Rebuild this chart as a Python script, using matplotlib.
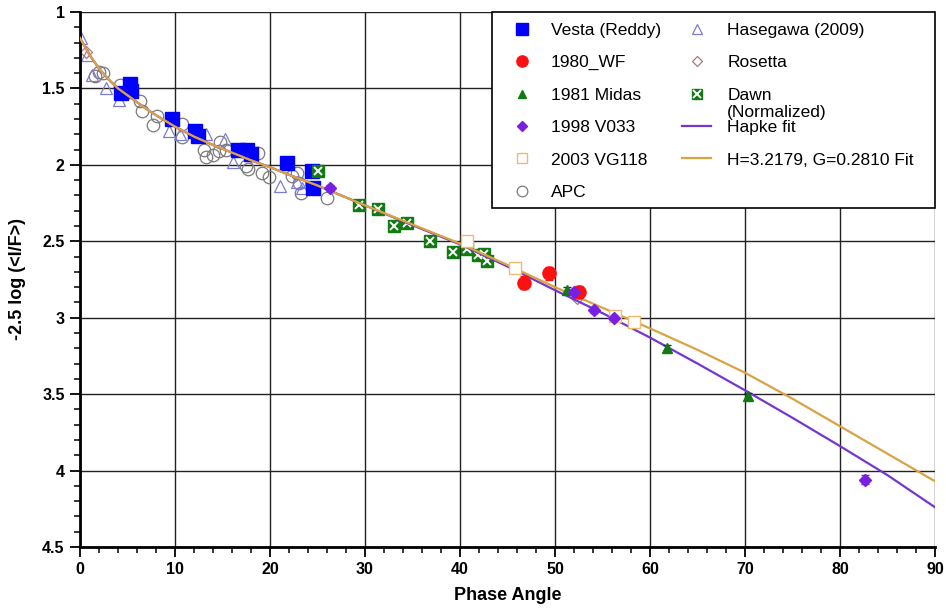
import matplotlib
matplotlib.use("Agg")
import matplotlib.pyplot as plt
from matplotlib.patches import Rectangle
from matplotlib.ticker import MultipleLocator, FormatStrFormatter

plt.rcParams['font.family'] = ['Liberation Sans', 'DejaVu Sans']

# --- data ---
vesta_x = [4.3, 5.3, 5.4, 9.7, 12.1, 12.4, 16.6, 17.6, 18.0, 21.8, 24.4, 24.5]
vesta_y = [1.53, 1.47, 1.52, 1.70, 1.78, 1.81, 1.90, 1.90, 1.93, 1.99, 2.04, 2.15]

wf_x = [46.7, 49.4, 52.5]
wf_y = [2.77, 2.71, 2.83]
wf_err = [0.04, 0.045, 0.04]

midas_x = [51.3, 61.8, 70.3]
midas_y = [2.82, 3.20, 3.51]
midas_err = [0.02, 0.02, 0.02]

v033_x = [26.3, 52.0, 54.1, 56.2, 82.6]
v033_y = [2.15, 2.83, 2.95, 3.00, 4.06]
v033_err = [0.02, 0.02, 0.02, 0.02, 0.03]

vg_x = [40.7, 45.8, 56.3, 58.3]
vg_y = [2.50, 2.675, 2.99, 3.03]
vg_err = [0.02, 0.02, 0.02, 0.02]

apc_x = [1.6, 2.0, 2.4, 4.2, 6.3, 6.5, 7.7, 8.1, 10.7, 10.7, 13.0, 13.3, 14.0,
         14.6, 14.7, 15.4, 17.5, 17.7, 18.7, 19.2, 19.9, 22.3, 22.8, 23.0,
         23.3, 26.0]
apc_y = [1.42, 1.39, 1.40, 1.48, 1.58, 1.65, 1.74, 1.68, 1.73, 1.815, 1.90, 1.95,
         1.935, 1.91, 1.85, 1.90, 2.01, 2.03, 1.92, 2.05, 2.08, 2.07, 2.05,
         2.12, 2.185, 2.22]

hase_x = [0.1, 0.7, 1.3, 2.7, 4.1, 9.4, 10.5, 13.3, 15.3, 16.1, 21.1, 22.8, 23.4]
hase_y = [1.17, 1.28, 1.41, 1.50, 1.575, 1.78, 1.80, 1.80, 1.83, 1.98, 2.14, 2.11, 2.15]

ros_x = [0.6, 52.3]
ros_y = [1.26, 2.87]

dawn_x = [25.1, 29.4, 31.4, 33.0, 34.4, 36.8, 39.3, 40.7, 41.9, 42.5, 42.8]
dawn_y = [2.04, 2.26, 2.29, 2.40, 2.38, 2.50, 2.57, 2.55, 2.59, 2.58, 2.63]

fit_x = [0, 1, 2, 3, 4, 5, 6, 7, 8, 10, 12, 14, 16, 18, 20, 22, 25, 30, 35,
         40, 45, 50, 55, 60, 65, 70, 75, 80, 85, 90]
hapke_y = [1.17, 1.28, 1.37, 1.44, 1.50, 1.545, 1.59, 1.635, 1.675, 1.75, 1.815,
           1.87, 1.92, 1.97, 2.015, 2.065, 2.135, 2.265, 2.395, 2.52, 2.665,
           2.82, 2.97, 3.13, 3.30, 3.475, 3.655, 3.84, 4.03, 4.24]
hg_y = [1.17, 1.28, 1.37, 1.44, 1.50, 1.545, 1.59, 1.635, 1.675, 1.75, 1.815,
        1.87, 1.92, 1.97, 2.015, 2.065, 2.135, 2.265, 2.39, 2.515, 2.655,
        2.80, 2.935, 3.07, 3.21, 3.36, 3.53, 3.71, 3.89, 4.07]

# --- styles ---
BLUE = '#0000ff'
RED = '#ff1010'
GREEN = '#127a12'
PURPLE = '#7a1fe0'
TAN = '#f0b870'
GREY = '#7a7a7a'
SLATE = '#7c7cd0'
ROSE = '#b07878'
HAPKE = '#7436d0'
HGC = '#d9a343'

styles = {
    'vesta': dict(marker='s', ms=9.5, mfc=BLUE, mec=BLUE, ls='none'),
    'wf': dict(marker='o', ms=9.5, mfc=RED, mec=RED, ls='none'),
    'midas': dict(marker='^', ms=7.5, mfc=GREEN, mec=GREEN, ls='none'),
    'v033': dict(marker='D', ms=6, mfc=PURPLE, mec=PURPLE, ls='none'),
    'vg': dict(marker='s', ms=8, mfc='white', mec=TAN, mew=1.0, ls='none'),
    'apc': dict(marker='o', ms=9, mfc='none', mec=GREY, mew=0.9, ls='none'),
    'hase': dict(marker='^', ms=9, mfc='none', mec=SLATE, mew=0.9, ls='none'),
    'ros': dict(marker='D', ms=6, mfc='none', mec=ROSE, mew=0.9, ls='none'),
    'dawn': dict(marker='s', ms=8.5, mfc=GREEN, mec=GREEN, ls='none'),
    'dawnx': dict(marker='x', ms=6, mec='white', mew=1.4, ls='none'),
    'hapke': dict(color=HAPKE, lw=1.6),
    'hg': dict(color=HGC, lw=1.6),
}

fig = plt.figure(figsize=(9.46, 6.10), dpi=100)
ax = fig.add_axes([80 / 946, 63 / 610, 855 / 946, 535 / 610])

ax.plot(apc_x, apc_y, zorder=2, **styles['apc'])
ax.plot(hase_x, hase_y, zorder=2, **styles['hase'])
ax.plot(ros_x, ros_y, zorder=2, **styles['ros'])
ax.plot(vesta_x, vesta_y, zorder=2, **styles['vesta'])
ax.plot(dawn_x, dawn_y, zorder=2, **styles['dawn'])
ax.plot(dawn_x, dawn_y, zorder=2, **styles['dawnx'])

ax.plot(fit_x, hapke_y, zorder=3, **styles['hapke'])
ax.plot(fit_x, hg_y, zorder=3, **styles['hg'])

ax.errorbar(vg_x, vg_y, yerr=vg_err, ecolor=TAN, elinewidth=1, capsize=3,
            zorder=4, **styles['vg'])
ax.errorbar(wf_x, wf_y, yerr=wf_err, ecolor=RED, elinewidth=1, capsize=3,
            zorder=4, **styles['wf'])
ax.errorbar(midas_x, midas_y, yerr=midas_err, ecolor='#202080', elinewidth=1,
            capsize=3, zorder=4, **styles['midas'])
ax.errorbar(v033_x, v033_y, yerr=v033_err, ecolor=PURPLE, elinewidth=1,
            capsize=3, zorder=4, **styles['v033'])

ax.set_xlim(0, 90)
ax.set_ylim(4.5, 1)
ax.xaxis.set_major_locator(MultipleLocator(10))
ax.xaxis.set_minor_locator(MultipleLocator(2))
ax.yaxis.set_major_locator(MultipleLocator(0.5))
ax.yaxis.set_minor_locator(MultipleLocator(0.1))
ax.yaxis.set_major_formatter(FormatStrFormatter('%g'))
ax.grid(True, which='major', color='#222222', lw=1.0)
ax.set_axisbelow(True)

for s in ['top', 'right']:
    ax.spines[s].set_visible(False)
for s in ['left', 'bottom']:
    ax.spines[s].set_linewidth(2)
ax.tick_params(which='major', direction='out', length=7, width=1.3,
               labelsize=11.5, pad=4)
ax.tick_params(which='minor', direction='out', length=4, width=1.1)
for lab in ax.get_xticklabels() + ax.get_yticklabels():
    lab.set_fontweight('bold')

ax.set_xlabel('Phase Angle', fontsize=13, fontweight='bold')
ax.set_ylabel('-2.5 log (<I/F>)', fontsize=13, fontweight='bold')
ax.xaxis.set_label_coords(0.5, -0.075)
ax.yaxis.set_label_coords(-0.063, 0.5)

# --- legend box drawn by hand (two columns, Dawn label wraps) ---
box = Rectangle((0.482, 0.634), 0.518, 0.366, transform=ax.transAxes,
                facecolor='white', edgecolor='black', lw=1.2, zorder=10,
                clip_on=False)
ax.add_patch(box)

left_items = [('vesta', 'Vesta (Reddy)'), ('wf', '1980_WF'),
              ('midas', '1981 Midas'), ('v033', '1998 V033'),
              ('vg', '2003 VG118'), ('apc', 'APC')]
right_items = [('hase', 'Hasegawa (2009)'), ('ros', 'Rosetta'),
               ('dawn', 'Dawn\n(Normalized)'), ('hapke', 'Hapke fit'),
               ('hg', 'H=3.2179, G=0.2810 Fit')]

row0 = 0.969
step = 0.0607
key_scale = 0.85
base_shift = 0.0115  # puts the caps of a text line centred on the key
line_h = 0.0325      # wrapped second line sits this far below


def draw_key(key, kx, ky):
    st = dict(styles[key])
    if 'marker' in st:
        st['ms'] = st['ms'] * key_scale
        ax.plot([kx], [ky], transform=ax.transAxes, zorder=11, clip_on=False, **st)
        if key == 'dawn':
            sx = dict(styles['dawnx'])
            sx['ms'] = sx['ms'] * key_scale
            ax.plot([kx], [ky], transform=ax.transAxes, zorder=12,
                    clip_on=False, **sx)
    else:
        ax.plot([kx - 0.017, kx + 0.017], [ky, ky], transform=ax.transAxes,
                zorder=11, clip_on=False, **st)


for col, (items, kx, tx) in enumerate([(left_items, 0.517, 0.551),
                                       (right_items, 0.7215, 0.757)]):
    for i, (key, label) in enumerate(items):
        ky = row0 - i * step
        draw_key(key, kx, ky)
        for j, part in enumerate(label.split('\n')):
            ax.text(tx, ky - base_shift - j * line_h, part,
                    transform=ax.transAxes, fontsize=12.5, va='baseline',
                    ha='left', zorder=12)

fig.savefig('out.png', dpi=100)
